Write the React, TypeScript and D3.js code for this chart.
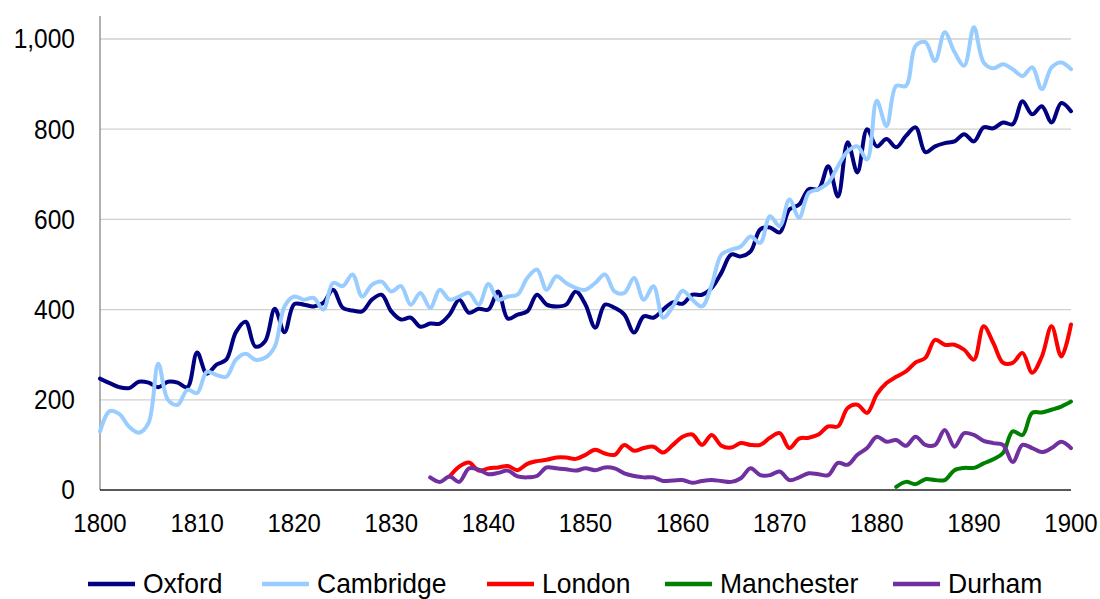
import * as d3 from "d3";

const years = d3.range(1800, 1901);

const oxford = [
  247, 237, 228, 226, 240, 238, 228, 240, 238, 228, 305, 258, 278, 289, 350, 373, 318, 330, 402, 350,
  412, 411, 407, 415, 444, 404, 398, 396, 422, 433, 396, 378, 382, 362, 369, 369, 389, 422, 393, 402,
  400, 440, 380, 389, 396, 433, 411, 407, 411, 440, 411, 360, 411, 404, 389, 349, 385, 382, 400, 416,
  413, 433, 433, 448, 482, 522, 518, 529, 578, 582, 571, 622, 633, 667, 667, 718, 651, 771, 704, 800,
  762, 778, 760, 785, 804, 749, 762, 769, 773, 789, 773, 804, 802, 815, 811, 862, 833, 851, 815, 858, 840,
];

const cambridge = [
  130, 175, 168, 140, 127, 149, 280, 200, 189, 222, 215, 262, 255, 251, 289, 302, 289, 293, 318, 407,
  429, 422, 426, 400, 459, 452, 478, 429, 455, 462, 440, 452, 411, 437, 404, 444, 422, 429, 437, 411,
  457, 422, 429, 433, 470, 489, 444, 474, 459, 448, 444, 459, 478, 440, 437, 470, 422, 452, 382, 407,
  442, 422, 407, 455, 522, 533, 540, 562, 548, 607, 585, 644, 604, 659, 667, 681, 718, 751, 762, 733,
  863, 807, 896, 896, 985, 993, 951, 1015, 971, 941, 1026, 948, 935, 944, 933, 918, 937, 889, 937, 948, 933,
];

// London from 1836
const london = [
  30, 52, 61, 43, 48, 50, 53, 44, 58, 64, 67, 72, 72, 69, 78, 89, 81, 78, 100, 87, 93, 96, 83, 100,
  118, 123, 100, 122, 98, 94, 104, 100, 100, 116, 126, 93, 114, 116, 123, 141, 141, 182, 189, 171,
  212, 237, 251, 263, 283, 293, 333, 322, 322, 311, 289, 363, 326, 282, 282, 304, 260, 296, 363, 296, 367,
];

// Manchester from 1882
const manchester = [7, 18, 13, 24, 22, 22, 44, 49, 49, 59, 68, 82, 130, 122, 171, 172, 178, 185, 196];

// Durham from 1834
const durham = [
  28, 18, 30, 18, 48, 45, 35, 38, 43, 30, 28, 31, 50, 48, 46, 43, 48, 44, 50, 48, 37, 31, 28, 28, 20, 21,
  22, 16, 20, 22, 20, 18, 26, 48, 33, 33, 41, 22, 28, 37, 35, 33, 60, 56, 78, 93,
  118, 107, 111, 98, 118, 100, 100, 133, 96, 126, 122, 109, 104, 100, 62, 100, 93, 84, 93, 107, 93,
];

const yTicks = [0, 200, 400, 600, 800, 1000];
const xTicks = [1800, 1810, 1820, 1830, 1840, 1850, 1860, 1870, 1880, 1890, 1900];

const series = [
  { name: "Oxford", color: "#000080", start: 1800, values: oxford, legendX: 88 },
  { name: "Cambridge", color: "#99ccff", start: 1800, values: cambridge, legendX: 262 },
  { name: "London", color: "#ff0000", start: 1836, values: london, legendX: 487 },
  { name: "Manchester", color: "#008000", start: 1882, values: manchester, legendX: 665 },
  { name: "Durham", color: "#7030a0", start: 1834, values: durham, legendX: 893 },
];

const W = 1100;
const H = 599;
const left = 100;
const right = 1071;
const top = 16;
const bottom = 490;

export default function App() {
  const x = d3.scaleLinear().domain([1800, 1900]).range([left, right]);
  const y = d3.scaleLinear().domain([0, 1051]).range([bottom, top]);
  const fmt = d3.format(",");

  const line = d3
    .line<[number, number]>()
    .x((d) => x(d[0]))
    .y((d) => y(d[1]))
    .curve(d3.curveCatmullRom.alpha(0.5));

  const font = "'Liberation Sans', Arial, sans-serif";

  return (
    <svg
      width={W}
      height={H}
      style={{ position: "absolute", left: 0, top: 0, background: "#fff" }}
      fontFamily={font}
    >
      {yTicks
        .filter((t) => t > 0)
        .map((t) => (
          <line key={t} x1={left} x2={right} y1={y(t)} y2={y(t)} stroke="#d0d0d0" strokeWidth={1.3} />
        ))}
      <line x1={left} x2={left} y1={top} y2={bottom} stroke="#868686" strokeWidth={1.3} />
      <line x1={left} x2={right} y1={bottom} y2={bottom} stroke="#222" strokeWidth={1.5} />
      {yTicks.map((t) => (
        <text
          key={t}
          transform={`translate(75,${y(t)}) scale(1,1.1)`}
          dy="0.35em"
          textAnchor="end"
          fontSize={24.5}
          fill="#000"
        >
          {fmt(t)}
        </text>
      ))}
      {xTicks.map((t) => (
        <text
          key={t}
          transform={`translate(${x(t)},523) scale(1,1.1)`}
          dy="0.35em"
          textAnchor="middle"
          fontSize={24}
          fill="#000"
        >
          {t}
        </text>
      ))}
      {series.map((s) => (
        <path
          key={s.name}
          d={line(s.values.map((v, i) => [s.start + i, v] as [number, number])) || ""}
          fill="none"
          stroke={s.color}
          strokeWidth={4}
          strokeLinejoin="round"
          strokeLinecap="round"
        />
      ))}
      {series.map((s) => (
        <g key={s.name} transform={`translate(${s.legendX},584)`}>
          <line x1={0} x2={47} y1={0} y2={0} stroke={s.color} strokeWidth={4.5} />
          <text transform="translate(55,-1) scale(1,1.05)" dy="0.35em" fontSize={26.5} fill="#000">
            {s.name}
          </text>
        </g>
      ))}
    </svg>
  );
}
